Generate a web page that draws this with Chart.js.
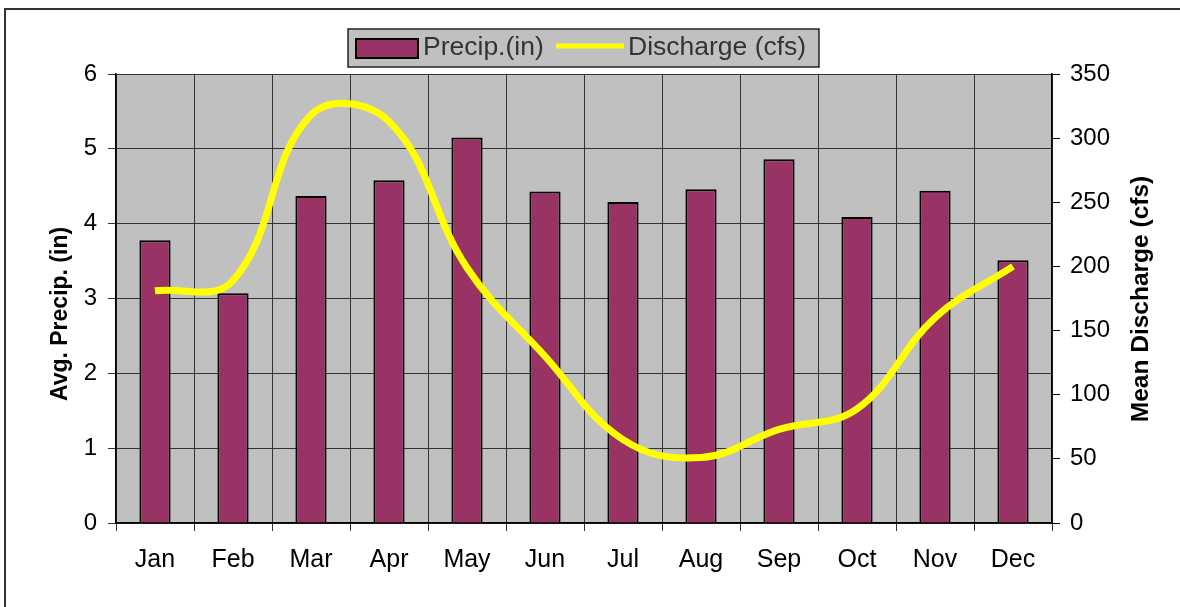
<!DOCTYPE html>
<html>
<head>
<meta charset="utf-8">
<script src="https://cdn.jsdelivr.net/npm/chart.js@4/dist/chart.umd.min.js"></script>
<style>
  html, body { margin: 0; padding: 0; background: #fff; }
  #wrap { width: 1180px; height: 607px; }
</style>
</head>
<body>
<div id="wrap"><canvas id="myChart" width="1180" height="607"></canvas></div>
<script>
var months = ['Jan', 'Feb', 'Mar', 'Apr', 'May', 'Jun', 'Jul', 'Aug', 'Sep', 'Oct', 'Nov', 'Dec'];
var precip = [3.78, 3.07, 4.37, 4.58, 5.15, 4.43, 4.29, 4.46, 4.86, 4.09, 4.44, 3.51];
var discharge = [181, 189, 318, 313, 199, 130, 65, 51, 73, 89, 160, 200];
var precipTicks = [0, 1, 2, 3, 4, 5, 6];
var dischargeTicks = [0, 50, 100, 150, 200, 250, 300, 350];

var FONT = '"Liberation Sans", Arial, sans-serif';

// frame, plot background, legend and axis titles
var decor = {
  id: 'decor',
  beforeDraw: function (chart) {
    var ctx = chart.ctx;
    var a = chart.chartArea;
    ctx.save();
    ctx.fillStyle = '#c0c0c0';
    ctx.fillRect(a.left, a.top, a.right - a.left, a.bottom - a.top);
    // outer frame (top and left edges)
    ctx.strokeStyle = '#333';
    ctx.lineWidth = 2;
    ctx.beginPath();
    ctx.moveTo(5, 607);
    ctx.lineTo(5, 9);
    ctx.lineTo(1180, 9);
    ctx.stroke();
    ctx.restore();
  },
  afterDraw: function (chart) {
    var ctx = chart.ctx;
    var ds = chart.data.datasets;
    ctx.save();
    // legend box
    ctx.fillStyle = '#c0c0c0';
    ctx.fillRect(348, 29, 471, 38);
    ctx.strokeStyle = '#222';
    ctx.lineWidth = 1.5;
    ctx.strokeRect(348, 29, 471, 38);
    ctx.fillStyle = ds[0].backgroundColor;
    ctx.fillRect(356, 39, 62, 19);
    ctx.strokeStyle = '#000';
    ctx.lineWidth = 2;
    ctx.strokeRect(356, 39, 62, 19);
    ctx.strokeStyle = ds[1].borderColor;
    ctx.lineWidth = 5;
    ctx.beginPath();
    ctx.moveTo(556, 46);
    ctx.lineTo(624, 46);
    ctx.stroke();
    ctx.fillStyle = '#333';
    ctx.font = '26.5px ' + FONT;
    ctx.textBaseline = 'middle';
    ctx.textAlign = 'left';
    ctx.fillText(ds[0].label, 423, 48);
    ctx.fillText(ds[1].label, 628, 48);
    ctx.restore();

    // axis titles, both reading bottom to top
    ctx.save();
    ctx.fillStyle = '#000';
    ctx.textAlign = 'center';
    ctx.textBaseline = 'middle';
    ctx.font = 'bold 23px ' + FONT;
    ctx.translate(61, 314);
    ctx.rotate(-Math.PI / 2);
    ctx.fillText('Avg. Precip. (in)', 0, 0);
    ctx.restore();

    ctx.save();
    ctx.fillStyle = '#000';
    ctx.textAlign = 'center';
    ctx.textBaseline = 'middle';
    ctx.font = 'bold 24.5px ' + FONT;
    ctx.translate(1141, 299);
    ctx.rotate(-Math.PI / 2);
    ctx.fillText('Mean Discharge (cfs)', 0, 0);
    ctx.restore();
  }
};

new Chart(document.getElementById('myChart').getContext('2d'), {
  type: 'bar',
  data: {
    labels: months,
    datasets: [{
      type: 'bar',
      label: 'Precip.(in)',
      data: precip,
      backgroundColor: '#993366',
      borderColor: '#000000',
      borderWidth: 2,
      barPercentage: 0.4,
      categoryPercentage: 1.0,
      yAxisID: 'y',
      order: 2
    }, {
      type: 'line',
      label: 'Discharge (cfs)',
      data: discharge,
      borderColor: '#ffff00',
      borderWidth: 7,
      tension: 0.4,
      pointRadius: 0,
      fill: false,
      yAxisID: 'y1',
      order: 1
    }]
  },
  options: {
    responsive: false,
    animation: false,
    layout: { padding: { top: 74, left: 0, right: 0, bottom: 0 } },
    plugins: {
      legend: { display: false },
      tooltip: { enabled: false }
    },
    scales: {
      x: {
        grid: { color: '#333', lineWidth: 1, tickLength: 8, offset: true },
        border: { color: '#000', width: 1.5 },
        ticks: { color: '#000', font: { family: FONT, size: 25 }, padding: 14, maxRotation: 0 },
        afterFit: function (s) { s.height = 84; }
      },
      y: {
        position: 'left',
        min: 0,
        max: 6,
        afterBuildTicks: function (s) { s.ticks = precipTicks.map(function (v) { return { value: v }; }); },
        grid: { color: '#333', lineWidth: 1, tickLength: 8 },
        border: { color: '#000', width: 1.5 },
        ticks: { color: '#000', font: { family: FONT, size: 24 }, padding: 11 },
        afterFit: function (s) { s.width = 116; }
      },
      y1: {
        position: 'right',
        min: 0,
        max: 350,
        afterBuildTicks: function (s) { s.ticks = dischargeTicks.map(function (v) { return { value: v }; }); },
        grid: { drawOnChartArea: false, color: '#000', tickLength: 8 },
        border: { color: '#000', width: 1.5 },
        ticks: { color: '#000', font: { family: FONT, size: 24 }, padding: 10 },
        afterFit: function (s) { s.width = 128; }
      }
    }
  },
  plugins: [decor]
});
</script>
</body>
</html>
